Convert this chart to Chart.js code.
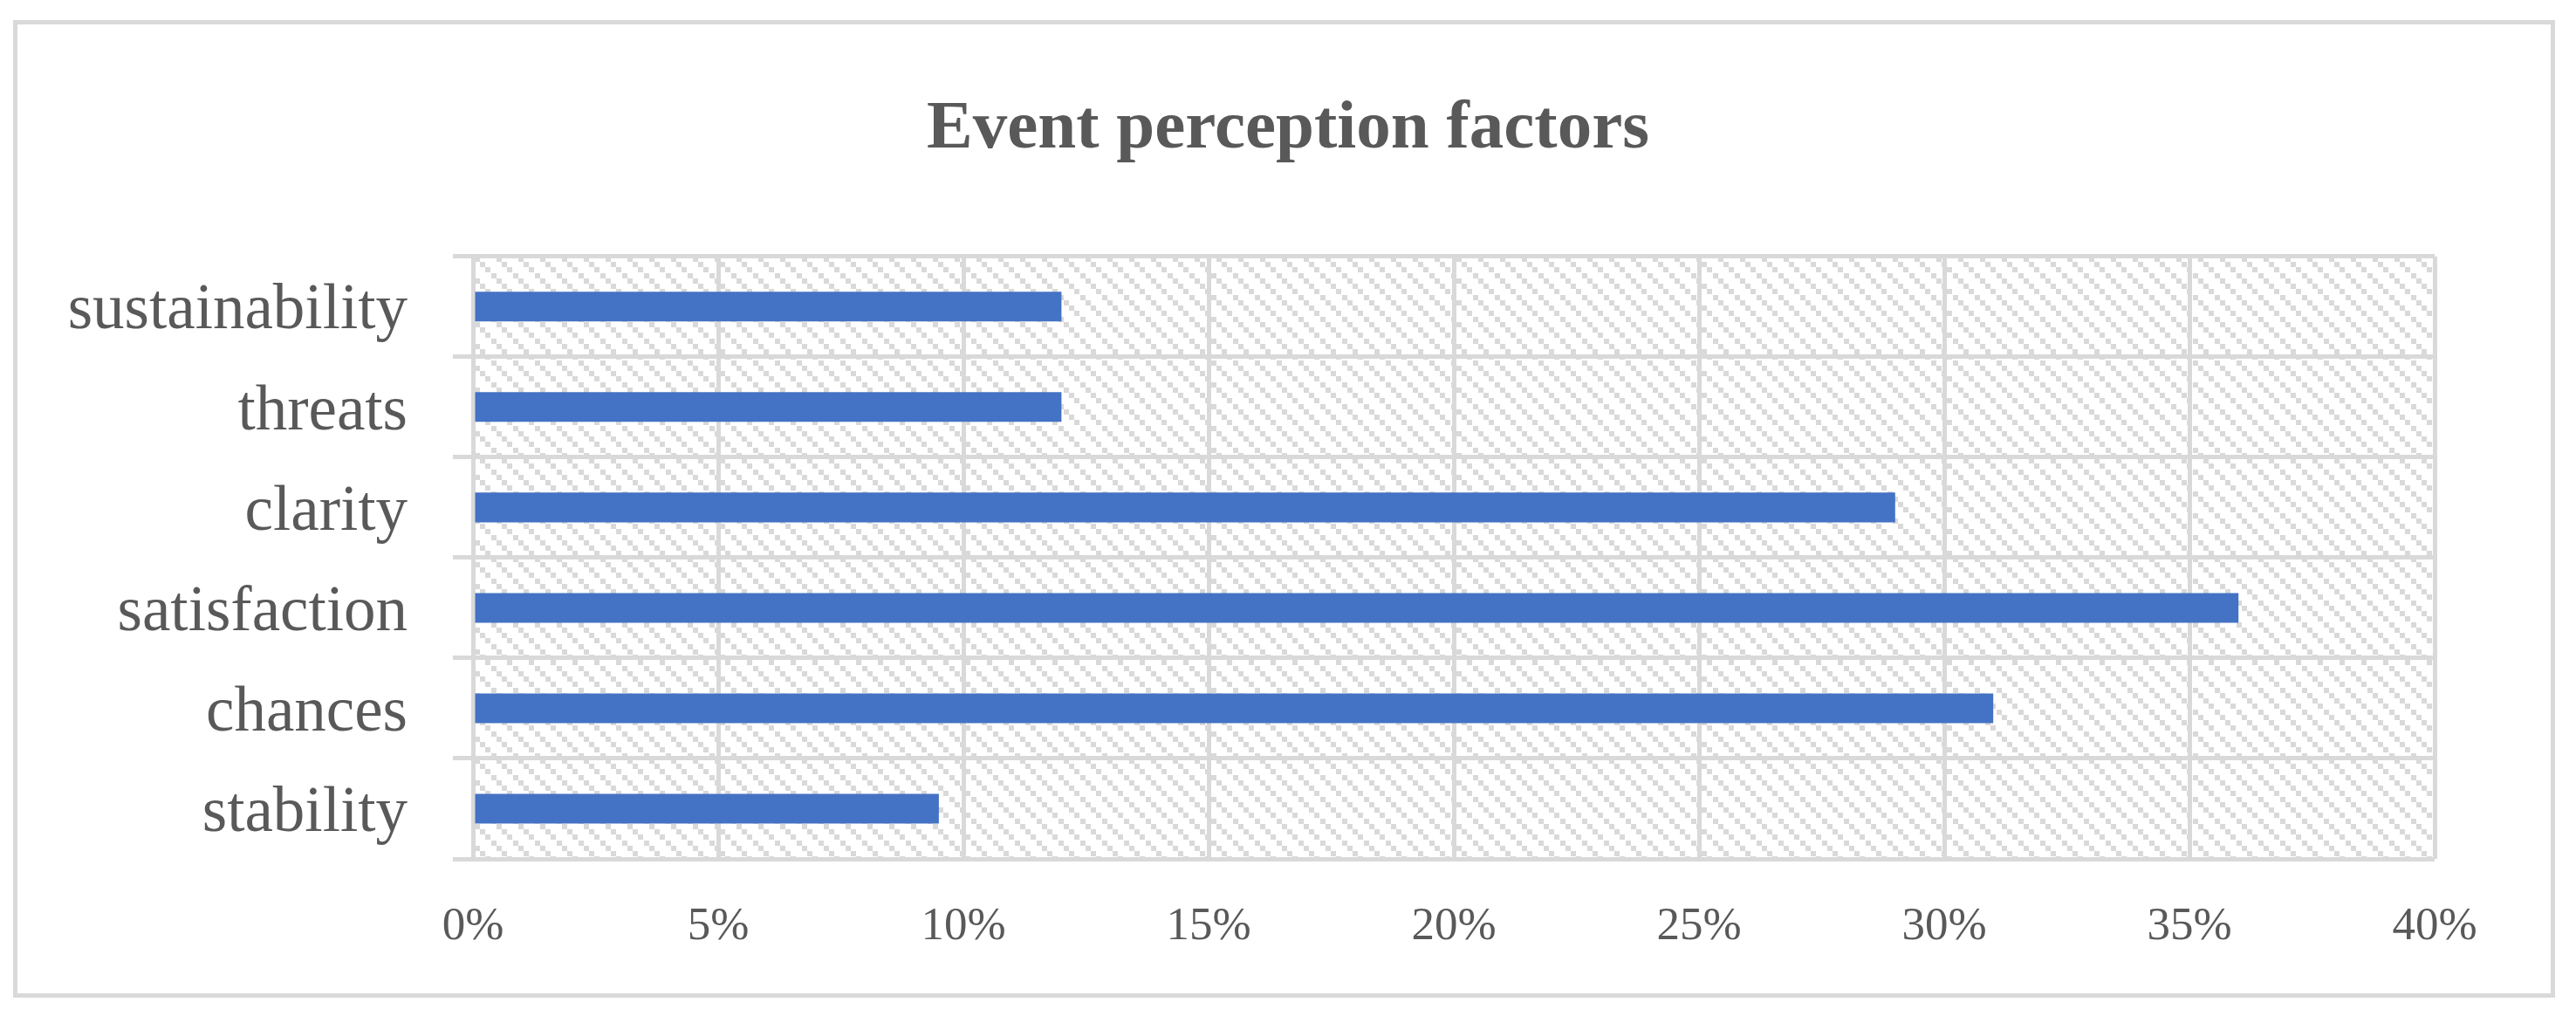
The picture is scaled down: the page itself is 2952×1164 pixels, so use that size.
<!DOCTYPE html>
<html>
<head>
<meta charset="utf-8">
<script src="https://cdn.jsdelivr.net/npm/chart.js@4.4.1/dist/chart.umd.min.js"></script>
<style>
  html, body { margin: 0; padding: 0; background: #fff; }
  #wrap { width: 2952px; height: 1164px; }
</style>
</head>
<body>
<div id="wrap"><canvas id="chart-factors" width="2952" height="1164"></canvas></div>
<script>
const categories = ["sustainability", "threats", "clarity", "satisfaction", "chances", "stability"]
const shares = [12, 12, 29, 36, 31, 9.5]
const xTicks = [0, 5, 10, 15, 20, 25, 30, 35, 40]

const grey = "#d9d9d9"
const textColor = "#595959"
const serif = "'Liberation Serif', 'DejaVu Serif', serif"

// diagonal hatch like the Excel pattern fill behind the bars
function hatch(ctx) {
  const tile = document.createElement("canvas")
  tile.width = 25
  tile.height = 25
  const t = tile.getContext("2d")
  t.fillStyle = "#fff"
  t.fillRect(0, 0, 25, 25)
  t.fillStyle = grey
  for (let i = 0; i < 4; i++) {
    t.fillRect(Math.round(i * 6.25), Math.round(i * 6.25), 6, 6)
  }
  return ctx.createPattern(tile, "repeat")
}

const frame = {
  id: "frame",
  beforeDraw(chart) {
    const { ctx, chartArea } = chart
    ctx.save()
    ctx.fillStyle = "#fff"
    ctx.fillRect(0, 0, chart.width, chart.height)
    ctx.strokeStyle = grey
    ctx.lineWidth = 5
    ctx.strokeRect(17.5, 25.5, 2908, 1115)
    ctx.fillStyle = hatch(ctx)
    ctx.fillRect(chartArea.left, chartArea.top, chartArea.right - chartArea.left, chartArea.bottom - chartArea.top)
    ctx.restore()
  }
}

new Chart(document.getElementById("chart-factors"), {
  type: "bar",
  data: {
    labels: categories,
    datasets: [{
      label: "Event perception factors",
      data: shares,
      backgroundColor: "#4472c4",
      borderWidth: 0,
      categoryPercentage: 1,
      barPercentage: 0.296
    }]
  },
  options: {
    indexAxis: "y",
    responsive: false,
    animation: false,
    devicePixelRatio: 1,
    layout: { padding: 0 },
    plugins: {
      legend: { display: false },
      tooltip: { enabled: false },
      title: {
        display: true,
        text: "Event perception factors",
        color: textColor,
        font: { family: serif, size: 79, weight: "bold", lineHeight: 1.2 },
        padding: { top: 101, bottom: 98 }
      }
    },
    scales: {
      x: {
        min: 0,
        max: 40,
        afterBuildTicks: s => { s.ticks = xTicks.map(v => ({ value: v })) },
        afterFit: s => { s.height = 180 },
        grid: { color: grey, lineWidth: 5, drawTicks: false },
        border: { display: false },
        ticks: {
          color: textColor,
          padding: 46,
          font: { family: serif, size: 53 },
          callback: v => v + "%"
        }
      },
      y: {
        afterFit: s => { s.width = 542 },
        grid: { color: grey, lineWidth: 5, tickLength: 23, offset: true },
        border: { display: false },
        ticks: {
          color: textColor,
          padding: 52,
          labelOffset: 6,
          font: { family: serif, size: 73 }
        }
      },
      // empty right-hand axis, only keeps the plot clear of the right edge
      yRight: {
        type: "category",
        position: "right",
        afterFit: s => { s.width = 162 },
        grid: { display: false },
        border: { display: false },
        ticks: { display: false }
      }
    }
  },
  plugins: [frame]
})
</script>
</body>
</html>
